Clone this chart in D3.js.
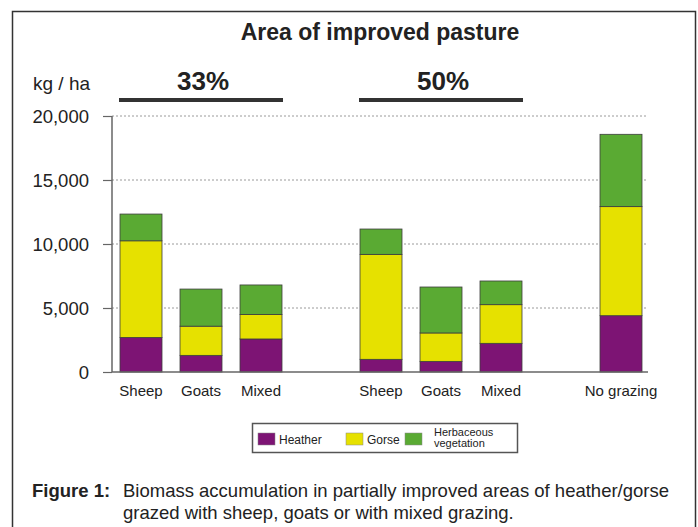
<!DOCTYPE html>
<html>
<head>
<meta charset="utf-8">
<script src="https://cdn.jsdelivr.net/npm/d3@7.9.0/dist/d3.min.js"></script>
<style>
  html, body { margin: 0; padding: 0; background: #fff; }
  svg { display: block; font-family: "Liberation Sans", Arial, Helvetica, sans-serif; }
</style>
</head>
<body>
<svg id="chart" width="698" height="527"></svg>
<script>
// slots along the x axis, gaps are empty slots between the groups
const slots = ['s33', 'g33', 'm33', 'gap1', 's50', 'g50', 'm50', 'gap2', 'none'];
const barIds = ['s33', 'g33', 'm33', 's50', 'g50', 'm50', 'none'];
const barLabels = ['Sheep', 'Goats', 'Mixed', 'Sheep', 'Goats', 'Mixed', 'No grazing'];

// kg / ha
const heather = [2700, 1300, 2580, 990, 830, 2240, 4400];
const gorse = [7550, 2280, 1920, 8200, 2220, 3020, 8520];
const herbaceous = [2090, 2900, 2300, 1980, 3590, 1850, 5650];

const seriesKeys = ['heather', 'gorse', 'herbaceous'];
const seriesNames = ['Heather', 'Gorse', 'Herbaceous vegetation'];
const seriesColors = ['#7d1474', '#e6e100', '#5aaa33'];

const yTicks = [0, 5000, 10000, 15000, 20000];

const groups = [
  { label: '33%', from: 's33', to: 'm33' },
  { label: '50%', from: 's50', to: 'm50' },
];

const rows = barIds.map((id, i) => ({
  id, heather: heather[i], gorse: gorse[i], herbaceous: herbaceous[i]
}));

const svg = d3.select('#chart');

// outer frame
svg.append('rect')
  .attr('x', 12.5).attr('y', 11.5)
  .attr('width', 683).attr('height', 530)
  .attr('fill', 'none').attr('stroke', '#333').attr('stroke-width', 1.5);

const x = d3.scaleBand().domain(slots).range([111, 651])
  .paddingInner(0.3).paddingOuter(0.15);
const y = d3.scaleLinear().domain([0, 20000]).range([372, 116]);

// grid
svg.append('g').selectAll('line')
  .data(yTicks.filter(d => d > 0))
  .join('line')
  .attr('x1', 112).attr('x2', 646)
  .attr('y1', d => y(d)).attr('y2', d => y(d))
  .attr('stroke', '#9a9a9a').attr('stroke-width', 1)
  .attr('stroke-dasharray', '2,2');

// stacked bars
const stacked = d3.stack().keys(seriesKeys)(rows);
stacked.forEach((layer, li) => {
  svg.append('g').selectAll('rect')
    .data(layer)
    .join('rect')
    .attr('x', d => x(d.data.id))
    .attr('width', x.bandwidth())
    .attr('y', d => y(d[1]))
    .attr('height', d => y(d[0]) - y(d[1]))
    .attr('fill', seriesColors[li])
    .attr('stroke', '#3d3d3d').attr('stroke-width', 0.8);
});

// y axis
const yAxis = svg.append('g').attr('transform', 'translate(112,0)')
  .call(d3.axisLeft(y).tickValues(yTicks).tickSize(9).tickPadding(14)
    .tickFormat(d3.format(',')));
yAxis.select('.domain').attr('stroke', '#666').attr('stroke-width', 1.5)
  .attr('d', `M0,${y(20000)}V${y(0)}`);
yAxis.selectAll('.tick line').attr('stroke', '#666').attr('stroke-width', 1.2);
yAxis.selectAll('.tick text')
  .attr('fill', '#222').attr('font-size', 18.5)
  .attr('font-family', '"Liberation Sans", Arial, sans-serif')
  .attr('dy', '0.36em');

// x axis line and labels
svg.append('line')
  .attr('x1', 112).attr('x2', 648)
  .attr('y1', y(0)).attr('y2', y(0))
  .attr('stroke', '#666').attr('stroke-width', 1.5);

svg.append('g').selectAll('text')
  .data(barIds)
  .join('text')
  .attr('x', d => x(d) + x.bandwidth() / 2)
  .attr('y', 396)
  .attr('text-anchor', 'middle')
  .attr('font-size', 15).attr('fill', '#222')
  .text((d, i) => barLabels[i]);

// titles
svg.append('text')
  .attr('x', 380).attr('y', 40).attr('text-anchor', 'middle')
  .attr('font-size', 23).attr('font-weight', 'bold').attr('fill', '#222')
  .text('Area of improved pasture');

svg.append('text')
  .attr('x', 33).attr('y', 90)
  .attr('font-size', 19).attr('fill', '#222')
  .text('kg / ha');

// group brackets
groups.forEach(g => {
  const x0 = x(g.from) - 1;
  const x1 = x(g.to) + x.bandwidth() + 1;
  svg.append('line')
    .attr('x1', x0).attr('x2', x1).attr('y1', 100).attr('y2', 100)
    .attr('stroke', '#333').attr('stroke-width', 4);
  svg.append('text')
    .attr('x', (x0 + x1) / 2 + 2).attr('y', 90).attr('text-anchor', 'middle')
    .attr('font-size', 26).attr('font-weight', 'bold').attr('fill', '#222')
    .text(g.label);
});

// legend
const legend = svg.append('g');
legend.append('rect')
  .attr('x', 252.5).attr('y', 423.5).attr('width', 265).attr('height', 29)
  .attr('fill', '#fff').attr('stroke', '#555').attr('stroke-width', 1.5);

const legendX = [258, 346, 405];
seriesNames.forEach((name, i) => {
  legend.append('rect')
    .attr('x', legendX[i]).attr('y', 433).attr('width', 17).attr('height', 12)
    .attr('fill', seriesColors[i]).attr('stroke', '#888').attr('stroke-width', 0.5);
  if (name === 'Herbaceous vegetation') {
    // two lines, as in the original legend
    ['Herbaceous', 'vegetation'].forEach((line, j) => {
      legend.append('text')
        .attr('x', legendX[i] + 29).attr('y', 436 + j * 11)
        .attr('font-size', 11).attr('fill', '#222')
        .text(line);
    });
  } else {
    legend.append('text')
      .attr('x', legendX[i] + 21).attr('y', 443.5)
      .attr('font-size', 12).attr('fill', '#222')
      .text(name);
  }
});

// caption
svg.append('text')
  .attr('x', 32).attr('y', 497)
  .attr('font-size', 18.5).attr('font-weight', 'bold').attr('fill', '#222')
  .text('Figure 1:');
svg.append('text')
  .attr('x', 123).attr('y', 497)
  .attr('font-size', 18.5).attr('fill', '#222')
  .text('Biomass accumulation in partially improved areas of heather/gorse');
svg.append('text')
  .attr('x', 123).attr('y', 519)
  .attr('font-size', 18.5).attr('fill', '#222')
  .text('grazed with sheep, goats or with mixed grazing.');
</script>
</body>
</html>
